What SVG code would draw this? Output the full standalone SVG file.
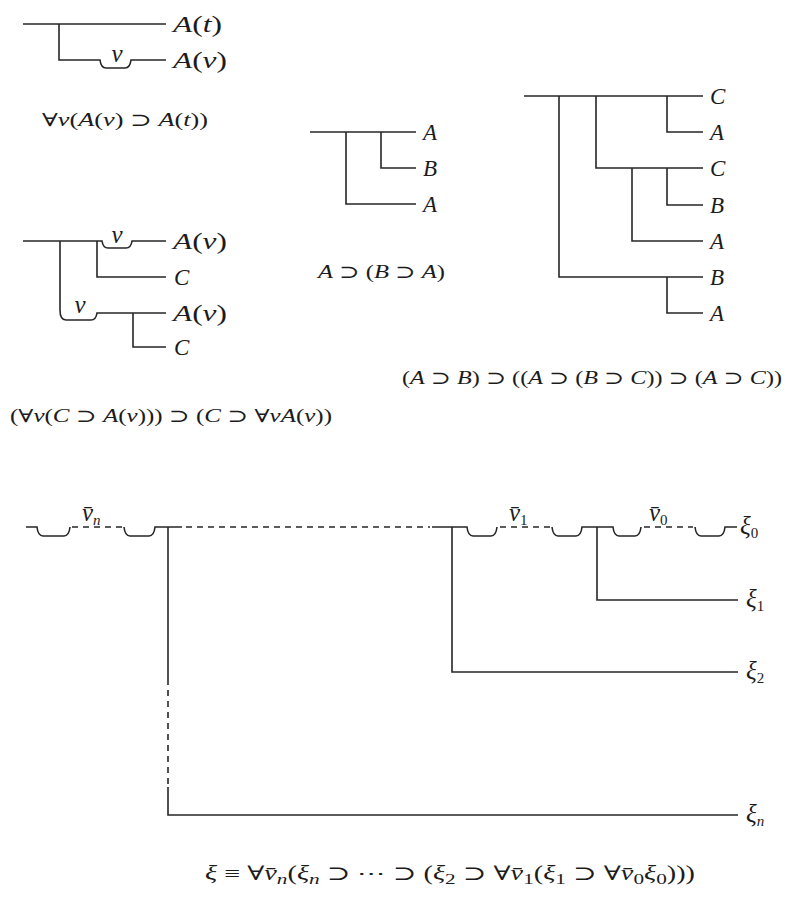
<svg xmlns="http://www.w3.org/2000/svg" width="795" height="910" viewBox="0 0 795 910">
<style>
.ln{stroke:#262626;stroke-width:1.6;fill:none;stroke-linecap:butt}
.ds{stroke-dasharray:6 5}
.t{font-family:"Liberation Serif","DejaVu Serif",serif;fill:#1c1c1c;font-size:23px}
.f{font-size:18px}
.f2{font-size:20px}
.x{font-size:25px}
.vv{font-size:25px;font-style:italic}
.i{font-style:italic}
.s{font-size:15px}
.si{font-size:15px;font-style:italic}
.m{text-anchor:middle}
</style>
<rect width="795" height="910" fill="#fff"/>

<!-- Figure 1 -->
<g id="fig1">
<g id="fig1-connectors">
<path class="ln" d="M23 24 H166"/>
<path class="ln" d="M59 24 V60 H100 Q101 68 106 68 H125 Q130 68 131 60 H166"/>
</g>
<g id="fig1-At"><text class="t" x="173" y="32" textLength="49" lengthAdjust="spacingAndGlyphs"><tspan class="i">A</tspan>(<tspan class="i">t</tspan>)</text></g>
<g id="fig1-Av"><text class="t" x="173" y="68" textLength="54" lengthAdjust="spacingAndGlyphs"><tspan class="i">A</tspan>(<tspan class="i">v</tspan>)</text></g>
<g id="fig1-v"><text class="t vv m" x="117" y="62">v</text></g>
<g id="fig1-formula"><text class="t f" x="42" y="126" textLength="166" lengthAdjust="spacingAndGlyphs">∀<tspan class="i">v</tspan>(<tspan class="i">A</tspan>(<tspan class="i">v</tspan>) ⊃ <tspan class="i">A</tspan>(<tspan class="i">t</tspan>))</text></g>
</g>

<!-- Figure 2 -->
<g id="fig2">
<g id="fig2-connectors">
<path class="ln" d="M310 132 H416"/>
<path class="ln" d="M346 132 V204 H416"/>
<path class="ln" d="M381 132 V168 H416"/>
</g>
<g id="fig2-A1"><text class="t i" x="423" y="140">A</text></g>
<g id="fig2-B"><text class="t i" x="423" y="176">B</text></g>
<g id="fig2-A2"><text class="t i" x="423" y="212">A</text></g>
<g id="fig2-formula"><text class="t f" x="318" y="278" textLength="127" lengthAdjust="spacingAndGlyphs"><tspan class="i">A</tspan> ⊃ (<tspan class="i">B</tspan> ⊃ <tspan class="i">A</tspan>)</text></g>
</g>

<!-- Figure 3 -->
<g id="fig3">
<g id="fig3-connectors">
<path class="ln" d="M524 96 H703"/>
<path class="ln" d="M559 96 V277 H703"/>
<path class="ln" d="M596 96 V168 H703"/>
<path class="ln" d="M667 96 V132 H703"/>
<path class="ln" d="M632 168 V241 H703"/>
<path class="ln" d="M667 168 V205 H703"/>
<path class="ln" d="M667 277 V313 H703"/>
</g>
<g id="fig3-C1"><text class="t i" x="710" y="104">C</text></g>
<g id="fig3-A1"><text class="t i" x="710" y="140">A</text></g>
<g id="fig3-C2"><text class="t i" x="710" y="176">C</text></g>
<g id="fig3-B1"><text class="t i" x="710" y="213">B</text></g>
<g id="fig3-A2"><text class="t i" x="710" y="249">A</text></g>
<g id="fig3-B2"><text class="t i" x="710" y="285">B</text></g>
<g id="fig3-A3"><text class="t i" x="710" y="321">A</text></g>
<g id="fig3-formula"><text class="t f" x="402" y="384" textLength="380" lengthAdjust="spacingAndGlyphs">(<tspan class="i">A</tspan> ⊃ <tspan class="i">B</tspan>) ⊃ ((<tspan class="i">A</tspan> ⊃ (<tspan class="i">B</tspan> ⊃ <tspan class="i">C</tspan>)) ⊃ (<tspan class="i">A</tspan> ⊃ <tspan class="i">C</tspan>))</text></g>
</g>

<!-- Figure 4 -->
<g id="fig4">
<g id="fig4-connectors">
<path class="ln" d="M23 241 H102 Q103 248 108 248 H126 Q131 248 132 241 H166"/>
<path class="ln" d="M97 241 V277 H166"/>
<path class="ln" d="M60 241 V310 Q60 320 66 320 H91 Q96 320 97 313 H166"/>
<path class="ln" d="M133 313 V347 H166"/>
</g>
<g id="fig4-v1"><text class="t vv m" x="117" y="243">v</text></g>
<g id="fig4-v2"><text class="t vv m" x="80" y="313">v</text></g>
<g id="fig4-Av1"><text class="t" x="173" y="249" textLength="54" lengthAdjust="spacingAndGlyphs"><tspan class="i">A</tspan>(<tspan class="i">v</tspan>)</text></g>
<g id="fig4-C1"><text class="t i" x="174" y="285">C</text></g>
<g id="fig4-Av2"><text class="t" x="173" y="321" textLength="54" lengthAdjust="spacingAndGlyphs"><tspan class="i">A</tspan>(<tspan class="i">v</tspan>)</text></g>
<g id="fig4-C2"><text class="t i" x="174" y="355">C</text></g>
<g id="fig4-formula"><text class="t f" x="10" y="422" textLength="322" lengthAdjust="spacingAndGlyphs">(∀<tspan class="i">v</tspan>(<tspan class="i">C</tspan> ⊃ <tspan class="i">A</tspan>(<tspan class="i">v</tspan>))) ⊃ (<tspan class="i">C</tspan> ⊃ ∀<tspan class="i">vA</tspan>(<tspan class="i">v</tspan>))</text></g>
</g>

<!-- Figure 5 -->
<g id="fig5">
<g id="fig5-connectors">
<path class="ln" d="M26 527 H37 Q38 536 43 536 H64 Q69 536 70 527"/>
<path class="ln ds" d="M72 527 H122"/>
<path class="ln" d="M124 527 Q125 536 130 536 H149 Q154 536 155 527 H182"/>
<path class="ln ds" d="M186 527 H430"/>
<path class="ln" d="M432 527 H467 Q468 536 473 536 H491 Q496 536 497 527"/>
<path class="ln ds" d="M500 527 H550"/>
<path class="ln" d="M552 527 Q553 536 558 536 H576 Q581 536 582 527 H613 Q614 536 619 536 H635 Q640 536 641 527"/>
<path class="ln ds" d="M644 527 H693"/>
<path class="ln" d="M695 527 Q696 536 701 536 H719 Q724 536 725 527 H737"/>
<path class="ln" d="M168 527 V685"/>
<path class="ln ds" d="M168 690 V785"/>
<path class="ln" d="M168 787 V815 H738"/>
<path class="ln" d="M452 527 V672 H738"/>
<path class="ln" d="M597 527 V600 H738"/>
</g>
<g id="fig5-vn"><text class="t" x="82" y="521"><tspan class="vv">v̄</tspan><tspan class="si" dy="4">n</tspan></text></g>
<g id="fig5-v1"><text class="t" x="509" y="521"><tspan class="vv">v̄</tspan><tspan class="s" dy="4">1</tspan></text></g>
<g id="fig5-v0"><text class="t" x="649" y="521"><tspan class="vv">v̄</tspan><tspan class="s" dy="4">0</tspan></text></g>
<g id="fig5-xi0"><text class="t x" x="740" y="534"><tspan class="i">ξ</tspan><tspan class="s" dy="4">0</tspan></text></g>
<g id="fig5-xi1"><text class="t x" x="746" y="607"><tspan class="i">ξ</tspan><tspan class="s" dy="4">1</tspan></text></g>
<g id="fig5-xi2"><text class="t x" x="746" y="679"><tspan class="i">ξ</tspan><tspan class="s" dy="4">2</tspan></text></g>
<g id="fig5-xin"><text class="t x" x="746" y="822"><tspan class="i">ξ</tspan><tspan class="si" dy="4">n</tspan></text></g>
<g id="fig5-formula"><text class="t f2" x="205" y="880" textLength="490" lengthAdjust="spacingAndGlyphs"><tspan class="i">ξ</tspan> ≡ ∀<tspan class="i">v̄</tspan><tspan class="si" dy="4">n</tspan><tspan dy="-4">(</tspan><tspan class="i">ξ</tspan><tspan class="si" dy="4">n</tspan><tspan dy="-4"> ⊃ ⋯ ⊃ (</tspan><tspan class="i">ξ</tspan><tspan class="s" dy="4">2</tspan><tspan dy="-4"> ⊃ ∀</tspan><tspan class="i">v̄</tspan><tspan class="s" dy="4">1</tspan><tspan dy="-4">(</tspan><tspan class="i">ξ</tspan><tspan class="s" dy="4">1</tspan><tspan dy="-4"> ⊃ ∀</tspan><tspan class="i">v̄</tspan><tspan class="s" dy="4">0</tspan><tspan class="i" dy="-4">ξ</tspan><tspan class="s" dy="4">0</tspan><tspan dy="-4">)))</tspan></text></g>
</g>
</svg>
